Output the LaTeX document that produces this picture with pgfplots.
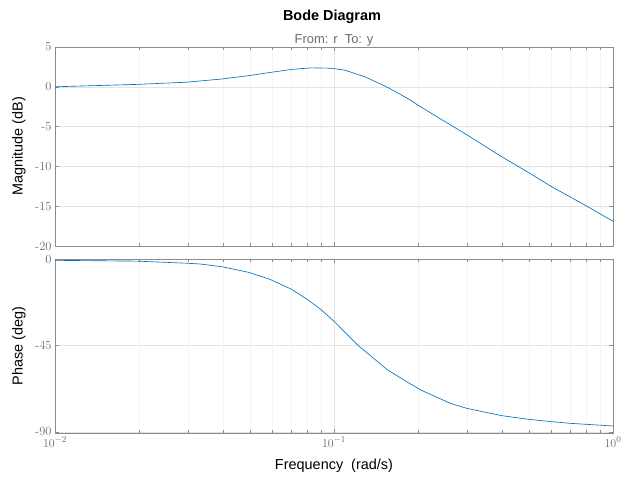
\documentclass[border=0pt]{standalone}
\usepackage{pgfplots}
\pgfplotsset{compat=1.18}
\usepackage{fontspec}
\newfontfamily\arial{Liberation Sans}
\definecolor{axgray}{rgb}{0.55,0.55,0.55}
\definecolor{tickgray}{rgb}{0.42,0.42,0.42}
\definecolor{mblue}{rgb}{0.0,0.447,0.741}
\definecolor{gridc}{rgb}{0.89,0.89,0.89}
\definecolor{mgridc}{rgb}{0.91,0.91,0.91}
\begin{document}
\begin{tikzpicture}
\path[use as bounding box] (0,0) rectangle (621bp,477bp);
\begin{axis}[
  scale only axis, width=558bp, xmode=log, xmin=0.01, xmax=1,
  anchor=south west,
  axis line style={axgray, line width=0.7bp},
  tick style={axgray, line width=0.5bp},
  tick align=inside, major tick length=4bp, minor tick length=3bp,
  xtick={0.01,0.1,1},
  minor xtick={0.02,0.03,0.04,0.05,0.06,0.07,0.08,0.09,0.2,0.3,0.4,0.5,0.6,0.7,0.8,0.9},
  grid=both,
  major grid style={gridc, line width=0.5bp},
  minor grid style={mgridc, dash pattern=on 1bp off 1bp, line width=0.5bp},
  ticklabel style={font=\fontsize{12.5}{12.5}\selectfont, text=tickgray},
  ylabel style={font=\arial\fontsize{14.5}{16}\selectfont, text=black, at={(axis description cs:-0.0645,0.5)}, anchor=center},
  at={(55bp,231bp)}, height=199bp,
  ymin=-20, ymax=5,
  ytick={-20,-15,-10,-5,0,5},
  yticklabels={-20,-15,-10,-5,0,5},
  xticklabels={},
  ylabel={Magnitude (dB)},
  title={From: r\ \ To: y},
  every axis title shift=0pt,
  title style={font=\arial\fontsize{13}{14}\selectfont, text=tickgray, at={(axis description cs:0.5,1.035)}, anchor=center},
]
\addplot[mblue, line width=0.65bp, no marks] table {
w db
0.01 0.0
0.0196 0.30
0.0297 0.58
0.0396 0.98
0.05 1.42
0.059 1.80
0.0703 2.18
0.0829 2.38
0.0978 2.33
0.109 2.10
0.129 1.26
0.156 -0.09
0.1844 -1.5
0.2 -2.3
0.240 -4.0
0.299 -6.02
0.399 -8.78
0.497 -10.75
0.598 -12.48
0.701 -13.82
0.798 -14.91
1.0 -16.89
};
\end{axis}
\begin{axis}[
  scale only axis, width=558bp, xmode=log, xmin=0.01, xmax=1,
  anchor=south west,
  axis line style={axgray, line width=0.7bp},
  tick style={axgray, line width=0.5bp},
  tick align=inside, major tick length=4bp, minor tick length=3bp,
  xtick={0.01,0.1,1},
  minor xtick={0.02,0.03,0.04,0.05,0.06,0.07,0.08,0.09,0.2,0.3,0.4,0.5,0.6,0.7,0.8,0.9},
  grid=both,
  major grid style={gridc, line width=0.5bp},
  minor grid style={mgridc, dash pattern=on 1bp off 1bp, line width=0.5bp},
  ticklabel style={font=\fontsize{12.5}{12.5}\selectfont, text=tickgray},
  ylabel style={font=\arial\fontsize{14.5}{16}\selectfont, text=black, at={(axis description cs:-0.0645,0.5)}, anchor=center},
  xlabel style={font=\arial\fontsize{14.5}{16}\selectfont, text=black, at={(axis description cs:0.5,-0.186)}, anchor=center},
  at={(55bp,43.5bp)}, height=174.5bp,
  ymin=-90.8, ymax=0,
  ytick={-90,-45,0},
  yticklabels={-90,-45,0},
  ylabel={Phase (deg)},
  xlabel={Frequency\ \ (rad/s)},
]
\addplot[mblue, line width=0.65bp, no marks] table {
w ph
0.01 -0.7
0.0196 -1.1
0.0297 -2.2
0.0331 -2.6
0.0396 -4.0
0.0493 -6.9
0.059 -10.6
0.0703 -15.7
0.08 -20.9
0.09 -26.4
0.1 -32.4
0.122 -45.0
0.156 -57.8
0.1844 -64.3
0.2057 -68.3
0.261 -75.1
0.299 -77.7
0.399 -81.5
0.497 -83.4
0.598 -84.6
0.701 -85.5
0.798 -86.0
1.0 -86.9
};
\end{axis}
\node[font=\arial\bfseries\fontsize{14.5}{16}\selectfont] at (332bp,460bp) {Bode Diagram};
\end{tikzpicture}
\end{document}
